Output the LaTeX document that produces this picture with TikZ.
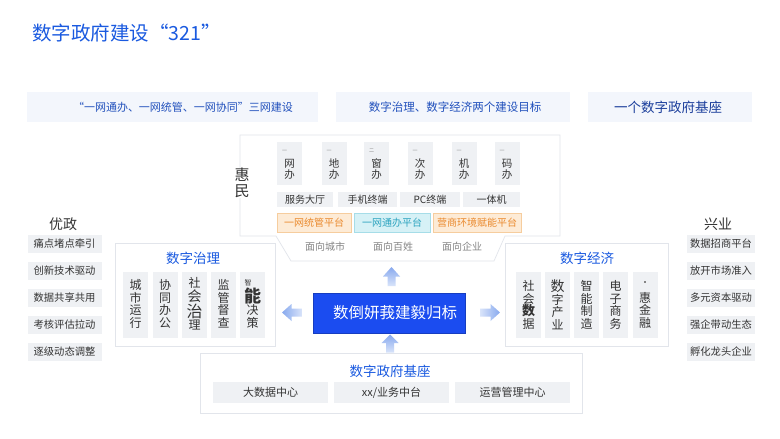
\documentclass[tikz,border=0pt]{standalone}
\usepackage{fontspec}
\setmainfont{Noto Sans CJK SC}
\definecolor{tblue}{HTML}{1A5AE0}
\definecolor{bantext}{HTML}{2150BC}
\definecolor{bandark}{HTML}{1C3F9C}
\definecolor{banfill}{HTML}{F3F6FC}
\definecolor{lgray}{HTML}{E2E5EB}
\definecolor{cgray}{HTML}{EFF1F4}
\definecolor{dtext}{HTML}{333333}
\definecolor{mtext}{HTML}{858585}
\definecolor{ofill}{HTML}{FDEBD6}
\definecolor{oline}{HTML}{F6CD9E}
\definecolor{otext}{HTML}{EA8A2E}
\definecolor{cfill}{HTML}{D6F1F6}
\definecolor{cline}{HTML}{A6DDE8}
\definecolor{ctext}{HTML}{2BA3BF}
\definecolor{hubblue}{HTML}{1B4CF0}
\definecolor{arrlight}{HTML}{D9E4FA}
\definecolor{arrdark}{HTML}{88A9EE}
\newcommand\myfs[2]{\fontsize{#1}{#2}\selectfont}
\tikzset{
  panel/.style={draw=lgray, fill=white, line width=0.7pt},
  banner/.style={fill=banfill, draw=none, inner sep=0},
  cell/.style={fill=cgray, draw=none, inner sep=0},
  celltxt/.style={text=dtext, font=\myfs{10.3}{12}, inner sep=0},
  vt/.style={align=center, text=dtext, font=\myfs{12}{12.5}, inner sep=0},
  vts/.style={align=center, text=dtext, font=\myfs{10.5}{11}, inner sep=0},
  tick/.style={text=mtext, font=\myfs{5}{5}, inner sep=0},
  ptitle/.style={text=tblue, font=\myfs{13.5}{16}, inner sep=0},
  otile/.style={fill=ofill, draw=oline, line width=0.6pt, text=otext, font=\myfs{10}{12}, inner sep=0},
  ctile/.style={fill=cfill, draw=cline, line width=0.6pt, text=ctext, font=\myfs{10}{12}, inner sep=0},
  face/.style={text=mtext, font=\myfs{10}{12}, inner sep=0},
}
\begin{document}
\begin{tikzpicture}[x=1pt,y=-1pt]
\fill[white] (0,0) rectangle (780,439);
\path[use as bounding box] (0,0) rectangle (780,439);

% title
\node[anchor=west, text=tblue, font=\myfs{19.5}{22}, inner sep=0] (title) at (32,33) {数字政府建设“321”};

% banners
\node[banner, minimum width=291pt, minimum height=30pt] (b1) at (172.5,107) {};
\node[text=bantext, font=\myfs{11}{13}, inner sep=0] (b1t) at (183,107) {“一网通办、一网统管、一网协同”三网建设};
\node[banner, minimum width=234pt, minimum height=30pt] (b2) at (453,107) {};
\node[text=bantext, font=\myfs{11.5}{13}, inner sep=0] (b2t) at (455,107) {数字治理、数字经济两个建设目标};
\node[banner, minimum width=164pt, minimum height=30pt] (b3) at (670,107) {};
\node[text=bandark, font=\myfs{13.5}{15}, inner sep=0] (b3t) at (668,107) {一个数字政府基座};

% 惠民 panel
\draw[panel] (240,135) -- (560,135) -- (560,236) -- (505,236) -- (494,261) -- (291,261) -- (276,236) -- (240,236) -- cycle;
\node[fill=white, align=center, text=dtext, font=\myfs{15}{15.5}, inner sep=0.5pt] (huimin) at (242,183) {惠\\民};

% six top cells
\foreach \cx/\n/\a/\b/\m in {289.5/t1/网/办/一, 334/t2/地/办/一, 376.5/t3/窗/办/二, 420/t4/次/办/一, 464/t5/机/办/一, 507/t6/码/办/一}{
  \node[cell, minimum width=25pt, minimum height=43pt] (\n) at (\cx,163.5) {};
  \node[tick, anchor=west] (\n m) at ([xshift=5pt]\n.west |- 0,151) {\m};
  \node[vts] (\n t) at (\cx,169) {\a\\\b};
}

% row 2
\node[cell, minimum width=56pt, minimum height=15pt, celltxt, font=\myfs{10}{12}] (r1) at (305,199.5) {服务大厅};
\node[cell, minimum width=59pt, minimum height=15pt, celltxt, font=\myfs{10}{12}] (r2) at (367.5,199.5) {手机终端};
\node[cell, minimum width=60pt, minimum height=15pt, celltxt, font=\myfs{10}{12}] (r3) at (430,199.5) {PC终端};
\node[cell, minimum width=57pt, minimum height=15pt, celltxt, font=\myfs{10}{12}] (r4) at (491.5,199.5) {一体机};

% row 3
\node[otile, minimum width=74pt, minimum height=19pt] (p1) at (314,222.5) {一网统管平台};
\node[ctile, minimum width=76pt, minimum height=19pt] (p2) at (392,222.5) {一网通办平台};
\node[otile, minimum width=88pt, minimum height=19pt] (p3) at (477,222.5) {营商环境赋能平台};

% row 4
\node[face] (f1) at (325,247) {面向城市};
\node[face] (f2) at (393,247) {面向百姓};
\node[face] (f3) at (462,247) {面向企业};

% left column
\node[text=dtext, font=\myfs{14}{16}, inner sep=0] (youzheng) at (63,224) {优政};
\foreach \cy/\n/\t in {244/l1/痛点堵点牵引, 271/l2/创新技术驱动, 297.5/l3/数据共享共用, 324.5/l4/考核评估拉动, 351.5/l5/逐级动态调整}{
  \node[cell, minimum width=74pt, minimum height=18pt, celltxt] (\n) at (64.5,\cy) {\t};
}

% right column
\node[text=dtext, font=\myfs{14}{16}, inner sep=0] (xingye) at (718,224) {兴业};
\foreach \cy/\n/\t in {244/q1/数据招商平台, 271/q2/放开市场准入, 297.5/q3/多元资本驱动, 324.5/q4/强企带动生态, 351.5/q5/孵化龙头企业}{
  \node[cell, minimum width=68pt, minimum height=18pt, celltxt] (\n) at (721,\cy) {\t};
}

% 数字治理 panel
\node[panel, minimum width=160pt, minimum height=103pt, inner sep=0] (gov) at (195,294.5) {};
\node[ptitle] (govt) at (193,258) {数字治理};
\foreach \cx/\n in {135.5/g1, 165/g2, 194.5/g3, 223.5/g4, 252.5/g5}{
  \node[cell, minimum width=25pt, minimum height=66pt] (\n) at (\cx,305) {};
}
\node[vt] (g1t) at (135.5,304) {城\\市\\运\\行};
\node[vt] (g2t) at (165,304) {协\\同\\办\\公};
\node[vt] (g3t) at (194.5,304) {社\\{\myfs{14}{14}会}\\{\myfs{16}{16}治}\\理};
\node[vt] (g4t) at (223.5,304) {监\\管\\督\\查};
\node[tick, font=\myfs{7}{7}, text=dtext] (g5a) at (248,283) {智};
\node[vt] (g5t) at (252.5,308) {{\myfs{17}{17}\bfseries 能}\\决\\策};

% 数字经济 panel
\node[panel, minimum width=163pt, minimum height=103pt, inner sep=0] (eco) at (586.5,294.5) {};
\node[ptitle] (ecot) at (587,258) {数字经济};
\foreach \cx/\n in {528.5/e1, 557.5/e2, 586.5/e3, 615.5/e4, 645/e5}{
  \node[cell, minimum width=25pt, minimum height=66pt] (\n) at (\cx,305) {};
}
\node[vt] (e1t) at (528.5,305) {社\\会\\{\myfs{13}{13}\bfseries 数}\\据};
\node[vt] (e2t) at (557.5,305) {{\myfs{14}{14}数}\\字\\产\\业};
\node[vt] (e3t) at (586.5,305) {智\\能\\制\\造};
\node[vt] (e4t) at (615.5,305) {电\\子\\商\\务};
\node[fill=mtext, minimum width=2.5pt, minimum height=2.5pt, inner sep=0] (e5a) at (645,282) {};
\node[vt] (e5t) at (645,310) {惠\\金\\融};

% hub
\node[fill=hubblue, draw=hubblue!80!black, line width=0.4pt, minimum width=152pt, minimum height=40pt, inner sep=0] (hub) at (389,313) {};
\node[text=white, font=\myfs{15.5}{17}, inner sep=0] (hubt) at (395,313) {数倒妍莪建毅归标};

% base panel
\node[panel, minimum width=382pt, minimum height=60pt, inner sep=0] (base) at (391,383) {};
\node[ptitle] (baset) at (390,371) {数字政府基座};
\node[cell, minimum width=115pt, minimum height=21pt, celltxt, font=\myfs{11}{13}] (s1) at (270.5,392.5) {大数据中心};
\node[cell, minimum width=115pt, minimum height=21pt, celltxt, font=\myfs{11}{13}] (s2) at (391.5,392.5) {xx/业务中台};
\node[cell, minimum width=115pt, minimum height=21pt, celltxt, font=\myfs{11}{13}] (s3) at (512.5,392.5) {运营管理中心};

% block arrows (hub -> panels, base -> hub)
\shade[top color=arrdark, bottom color=arrlight]
  (391.5,267) -- (400,276.5) -- (395.5,276.5) -- (395.5,286) -- (387.5,286) -- (387.5,276.5) -- (383,276.5) -- cycle;
\shade[left color=arrdark, right color=arrlight]
  (282,312.5) -- (291.5,304) -- (291.5,308.5) -- (302,308.5) -- (302,316.5) -- (291.5,316.5) -- (291.5,321) -- cycle;
\shade[right color=arrdark, left color=arrlight]
  (500,312.5) -- (490.5,304) -- (490.5,308.5) -- (480,308.5) -- (480,316.5) -- (490.5,316.5) -- (490.5,321) -- cycle;
\shade[top color=arrdark, bottom color=arrlight]
  (390,334.5) -- (398.5,343) -- (394,343) -- (394,352.5) -- (386,352.5) -- (386,343) -- (381.5,343) -- cycle;
\end{tikzpicture}
\end{document}
